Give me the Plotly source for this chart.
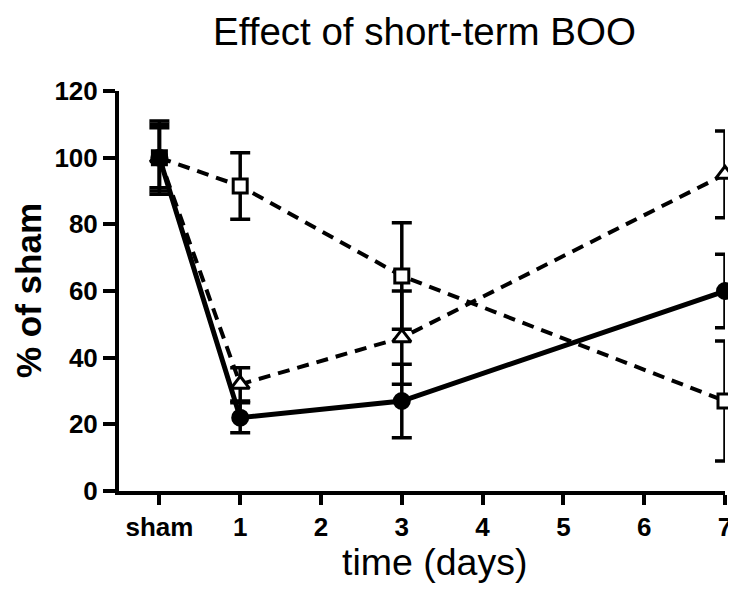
import plotly.graph_objects as go

x_vals = [0, 1, 3, 7]
tick_vals = [0, 1, 2, 3, 4, 5, 6, 7]
tick_text = ["sham", "1", "2", "3", "4", "5", "6", "7"]
y_tick_vals = [0, 20, 40, 60, 80, 100, 120]

circle_y = [100, 22, 27, 60]
circle_err = [11, 4.5, 11, 11]
triangle_y = [100, 32, 46, 95]
triangle_err = [10, 5, 14, 13]
square_y = [100, 91.5, 64.5, 27]
square_err = [9, 10, 16, 18]

FONT = "Liberation Sans, Arial, sans-serif"

# the page places the figure 8px in from the top-left corner (body margin)
OFF = 8
W, H = 736 - OFF, 596 - OFF
# plot area in screen pixels: x 119..725, y 91..491
pl, pr, pt, pb = 119 - OFF, 736 - 725, 91 - OFF, 596 - 491
pw, ph = W - pl - pr, H - pt - pb


def px(xs):
    return (xs - OFF - pl) / pw


def py(ys):
    return (H - pb - (ys - OFF)) / ph


fig = go.Figure()


def add(y, err, symbol, dash, lw, size, fill):
    fig.add_trace(go.Scatter(
        x=x_vals, y=y,
        mode="lines+markers",
        line=dict(color="black", width=lw, dash=dash),
        marker=dict(symbol=symbol, size=size, color=fill,
                    line=dict(color="black", width=3)),
        error_y=dict(type="data", array=err, visible=True,
                     color="black", thickness=3.5, width=10),
        cliponaxis=False,
        showlegend=False,
    ))


add(square_y, square_err, "square", "12px,8px", 4, 14, "white")
add(triangle_y, triangle_err, "triangle-up", "12px,8px", 4, 16, "white")
add(circle_y, circle_err, "circle", "solid", 5, 15, "black")

fig.update_layout(
    width=W, height=H,
    margin=dict(l=pl, r=pr, t=pt, b=pb, autoexpand=False),
    paper_bgcolor="white", plot_bgcolor="white",
    font=dict(family=FONT, color="black"),
    xaxis=dict(
        range=[-0.5, 7], tickvals=tick_vals, ticktext=tick_text,
        showgrid=False, zeroline=False,
        showline=True, linecolor="black", linewidth=4,
        ticks="outside", ticklen=10, tickwidth=3.5, tickcolor="black",
        tickfont=dict(family=FONT, size=26, color="black", weight="bold"),
    ),
    yaxis=dict(
        range=[0, 120], tickvals=y_tick_vals,
        showgrid=False, zeroline=False,
        showline=True, linecolor="black", linewidth=4,
        ticks="outside", ticklen=12, tickwidth=3.5, tickcolor="black",
        tickfont=dict(family=FONT, size=26, color="black", weight="bold"),
    ),
    annotations=[
        dict(text="Effect of short-term BOO", x=px(424), y=py(31), xref="paper", yref="paper",
             showarrow=False, xanchor="center", yanchor="middle",
             font=dict(family=FONT, size=38.5, color="black")),
        dict(text="time (days)", x=px(434), y=py(562), xref="paper", yref="paper",
             showarrow=False, xanchor="center", yanchor="middle",
             font=dict(family=FONT, size=37.5, color="black")),
        dict(text="% of sham", x=px(28), y=py(290), xref="paper", yref="paper",
             showarrow=False, xanchor="center", yanchor="middle", textangle=-90,
             font=dict(family=FONT, size=35, color="black", weight="bold")),
    ],
)

fig.write_html("out.html")
